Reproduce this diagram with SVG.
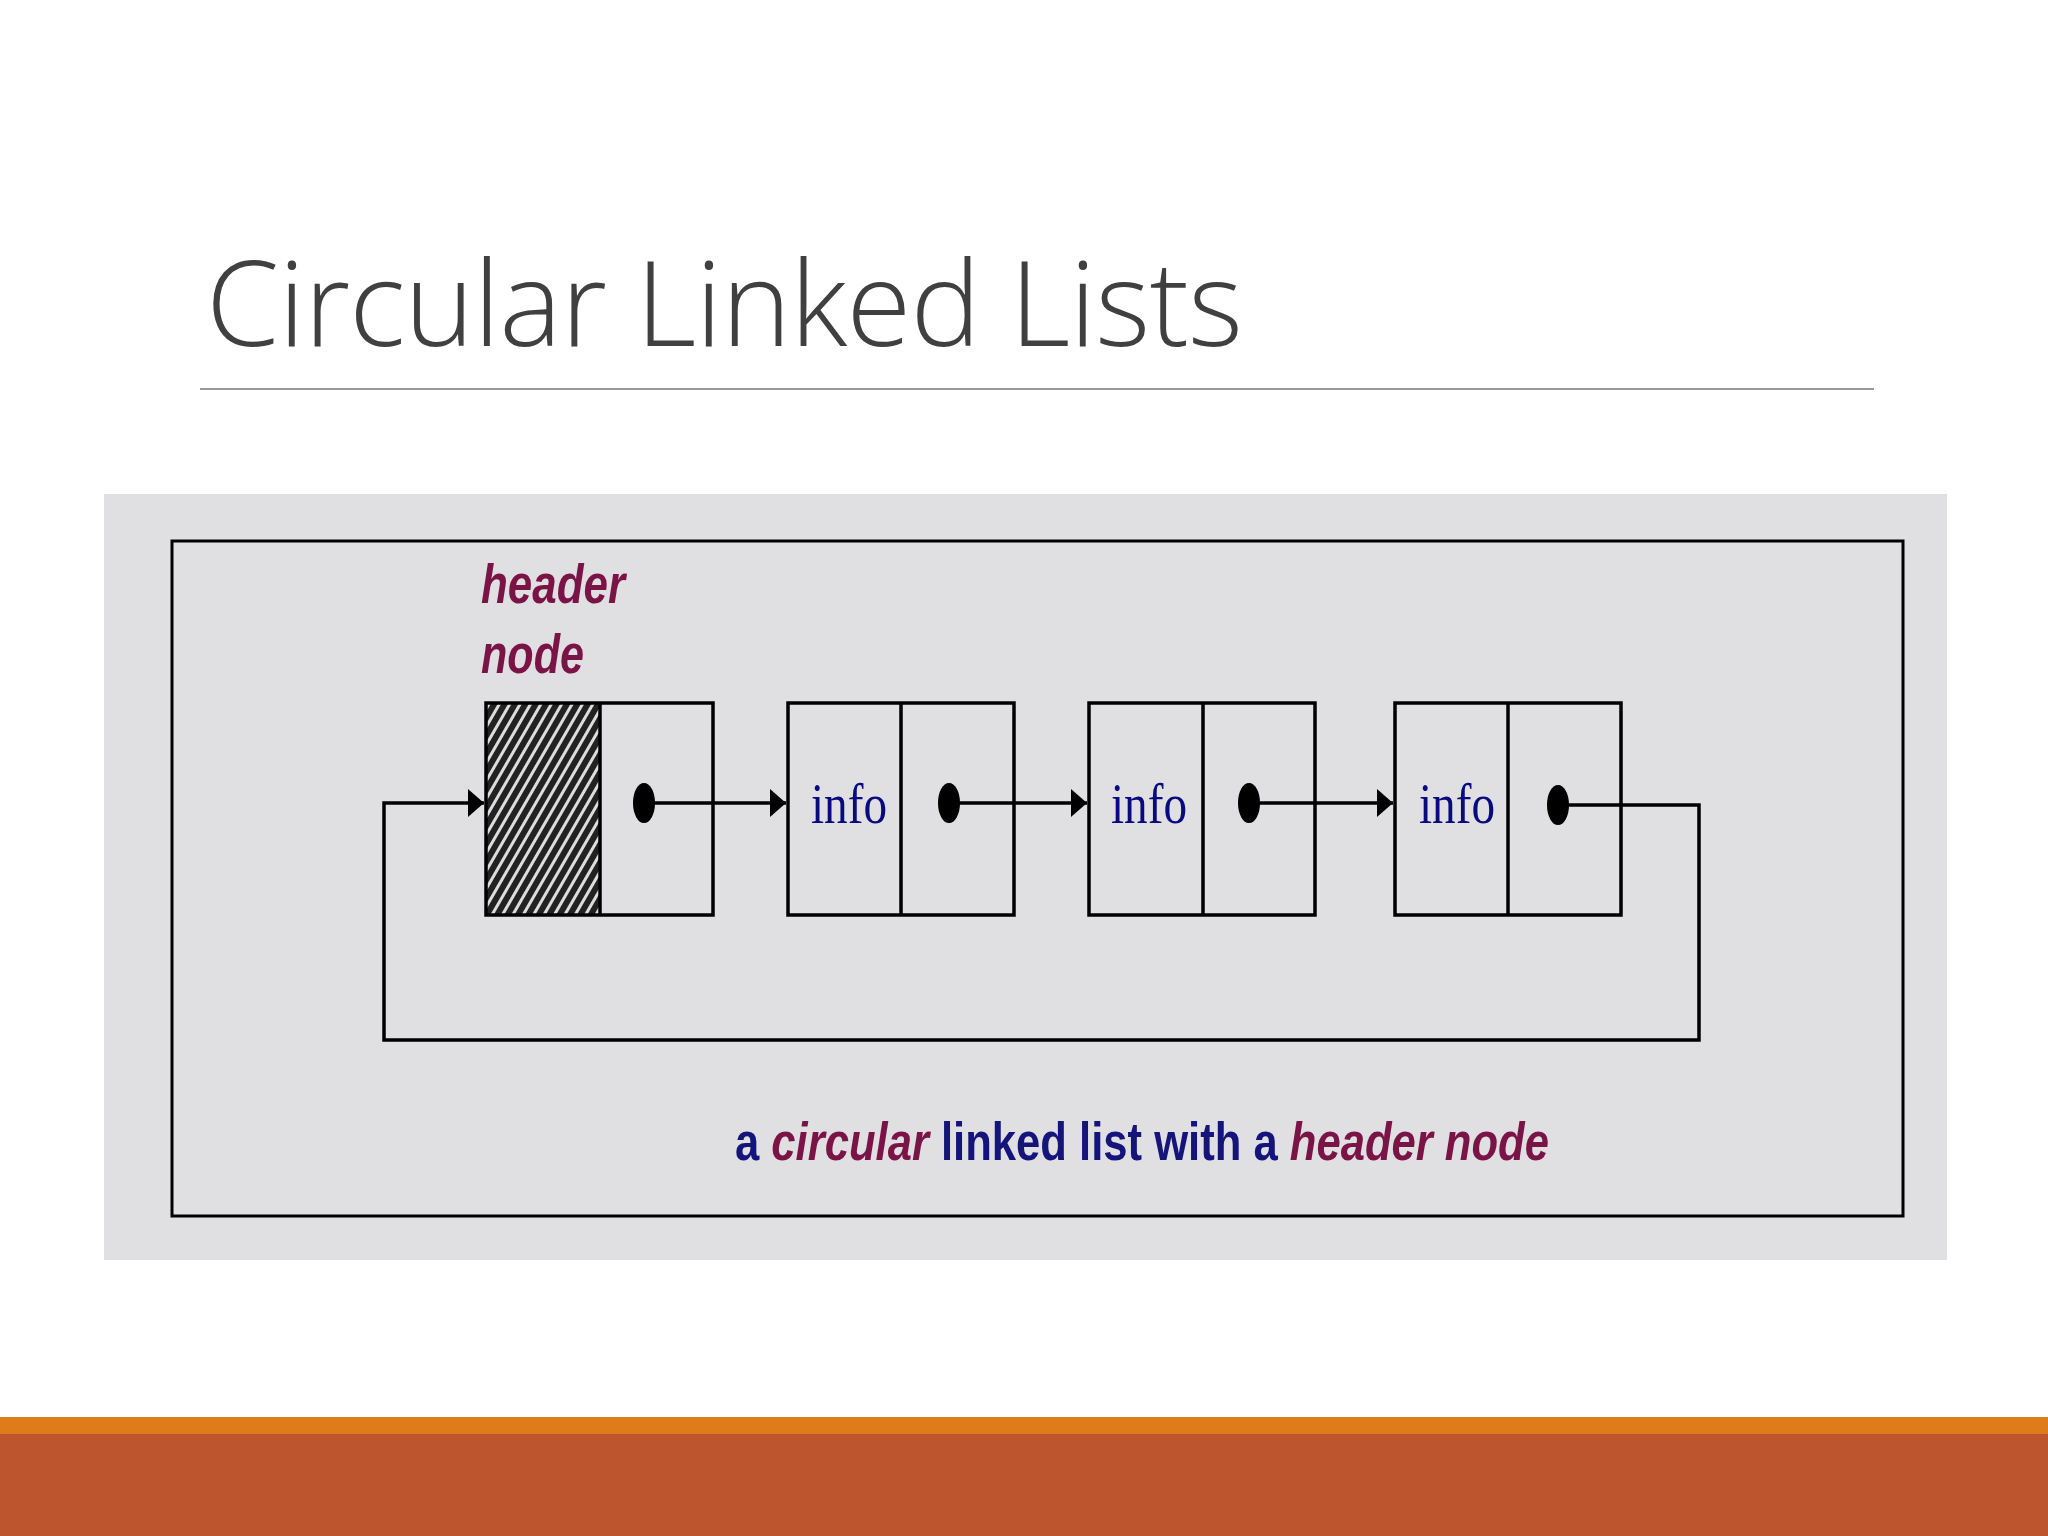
<svg xmlns="http://www.w3.org/2000/svg" width="2048" height="1536" viewBox="0 0 2048 1536">
<defs>
<pattern id="hatch" width="9" height="9" patternUnits="userSpaceOnUse" patternTransform="rotate(30)">
<rect width="9" height="9" fill="#222"/>
<rect x="0" y="0" width="3" height="9" fill="#ddd"/>
</pattern>
<marker id="arr" viewBox="0 0 16 28" refX="16" refY="14" markerWidth="16" markerHeight="28" markerUnits="userSpaceOnUse" orient="auto">
<path d="M0,0 L16,14 L0,28 Z" fill="#000"/>
</marker>
</defs>
<style>
.box{fill:none;stroke:#000;stroke-width:3.5}
.info{font-family:"Liberation Serif",serif;font-size:58px;fill:#0a0a80}
.dot{fill:#000}
.ln{fill:none;stroke:#000;stroke-width:3.5}
.hd{font-family:"Liberation Sans",sans-serif;font-weight:bold;font-style:italic;font-size:56px;fill:#7a1446}
</style>
<rect width="2048" height="1536" fill="#fff"/>
<text x="206" y="346" font-family="Open Sans, sans-serif" font-weight="300" font-size="118" fill="#404040" textLength="1037">Circular Linked Lists</text>
<line x1="200" y1="389" x2="1874" y2="389" stroke="#999" stroke-width="2"/>
<rect x="104" y="494" width="1843" height="766" fill="#e0e0e2"/>
<rect x="172" y="541" width="1731" height="675" fill="none" stroke="#000" stroke-width="3"/>
<g id="header-label">
<text class="hd" x="481" y="603" textLength="144" lengthAdjust="spacingAndGlyphs">header</text>
<text class="hd" x="481" y="673" textLength="103" lengthAdjust="spacingAndGlyphs">node</text>
</g>
<g id="node-header">
<rect x="486" y="703" width="114" height="212" fill="url(#hatch)"/>
<rect class="box" x="486" y="703" width="227" height="212"/>
<line class="box" x1="600" y1="703" x2="600" y2="915"/>
<ellipse class="dot" cx="644" cy="803" rx="11" ry="20"/>
</g>
<g id="node-1">
<rect class="box" x="788" y="703" width="226" height="212"/>
<line class="box" x1="901" y1="703" x2="901" y2="915"/>
<text class="info" x="811" y="823" textLength="76" lengthAdjust="spacingAndGlyphs">info</text>
<ellipse class="dot" cx="949" cy="803" rx="11" ry="20"/>
</g>
<g id="node-2">
<rect class="box" x="1089" y="703" width="226" height="212"/>
<line class="box" x1="1203" y1="703" x2="1203" y2="915"/>
<text class="info" x="1111" y="823" textLength="76" lengthAdjust="spacingAndGlyphs">info</text>
<ellipse class="dot" cx="1249" cy="803" rx="11" ry="20"/>
</g>
<g id="node-3">
<rect class="box" x="1395" y="703" width="226" height="212"/>
<line class="box" x1="1508" y1="703" x2="1508" y2="915"/>
<text class="info" x="1419" y="823" textLength="76" lengthAdjust="spacingAndGlyphs">info</text>
<ellipse class="dot" cx="1558" cy="805" rx="11" ry="20"/>
</g>
<g id="connectors">
<line class="ln" x1="644" y1="803" x2="786" y2="803" marker-end="url(#arr)"/>
<line class="ln" x1="949" y1="803" x2="1087" y2="803" marker-end="url(#arr)"/>
<line class="ln" x1="1249" y1="803" x2="1393" y2="803" marker-end="url(#arr)"/>
<polyline class="ln" points="1558,805 1699,805 1699,1040 384,1040 384,803 484,803" stroke-width="3.5" marker-end="url(#arr)"/>
</g>
<text x="735" y="1160" font-family="Liberation Sans, sans-serif" font-weight="bold" font-size="54" textLength="814" lengthAdjust="spacingAndGlyphs"><tspan fill="#14147a">a </tspan><tspan fill="#7a1446" font-style="italic">circular</tspan><tspan fill="#14147a"> linked list with a </tspan><tspan fill="#7a1446" font-style="italic">header node</tspan></text>
<rect x="0" y="1417" width="2048" height="17" fill="#e07b1a"/>
<rect x="0" y="1434" width="2048" height="102" fill="#bd552e"/>
</svg>
